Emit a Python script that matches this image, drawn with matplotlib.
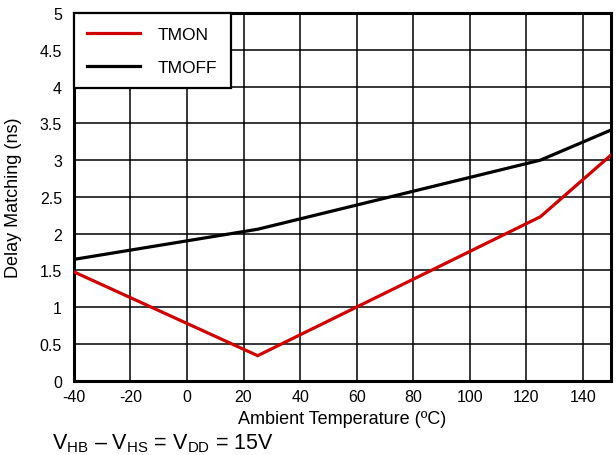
import matplotlib
matplotlib.use("Agg")
import matplotlib.pyplot as plt

plt.rcParams['font.family'] = ['Liberation Sans', 'DejaVu Sans']
plt.rcParams['mathtext.fontset'] = 'custom'
plt.rcParams['mathtext.rm'] = 'Liberation Sans'
plt.rcParams['mathtext.it'] = 'Liberation Sans'
plt.rcParams['axes.unicode_minus'] = False

temp_on = [-40, 25, 125, 150]
tmon = [1.48, 0.34, 2.23, 3.07]
temp_off = [-40, 25, 125, 150]
tmoff = [1.65, 2.06, 3.0, 3.41]

x_ticks = [-40, -20, 0, 20, 40, 60, 80, 100, 120, 140]
y_ticks = [0, 0.5, 1, 1.5, 2, 2.5, 3, 3.5, 4, 4.5, 5]
y_labels = ['0', '0.5', '1', '1.5', '2', '2.5', '3', '3.5', '4', '4.5', '5']

fig = plt.figure(figsize=(6.16, 4.56), dpi=100)
ax = fig.add_axes([0.120, 0.163, 0.872, 0.806])

ax.plot(temp_on, tmon, color='#d00000', lw=2.3, label='TMON', zorder=3,
        solid_joinstyle='miter')
ax.plot(temp_off, tmoff, color='black', lw=2.3, label='TMOFF', zorder=3,
        solid_joinstyle='miter')

ax.set_xlim(-40, 150)
ax.set_ylim(0, 5)
ax.set_xticks(x_ticks)
ax.set_yticks(y_ticks)
ax.set_yticklabels(y_labels)
ax.tick_params(length=0, labelsize=11.5)
ax.tick_params(axis='x', pad=6)
ax.tick_params(axis='y', pad=8.5)
ax.grid(True, color='black', lw=1.1)
ax.set_axisbelow(True)
for s in ax.spines.values():
    s.set_linewidth(2.2)

ax.set_xlabel('Ambient Temperature (ºC)', fontsize=13, labelpad=4)
ax.set_ylabel('Delay Matching (ns)', fontsize=13, labelpad=13)

leg = ax.legend(loc='upper left', borderaxespad=0, fancybox=False,
                edgecolor='black', framealpha=1, fontsize=12.5,
                handlelength=3.0, handletextpad=1.05, labelspacing=1.02,
                borderpad=0.78)
leg.get_frame().set_linewidth(1.6)

fig.text(0.084, 0.014,
         r'V$_{\mathrm{HB}}$ – V$_{\mathrm{HS}}$ = V$_{\mathrm{DD}}$ = 15V',
         fontsize=15.5, ha='left', va='baseline')

fig.savefig('out.png', dpi=100)
